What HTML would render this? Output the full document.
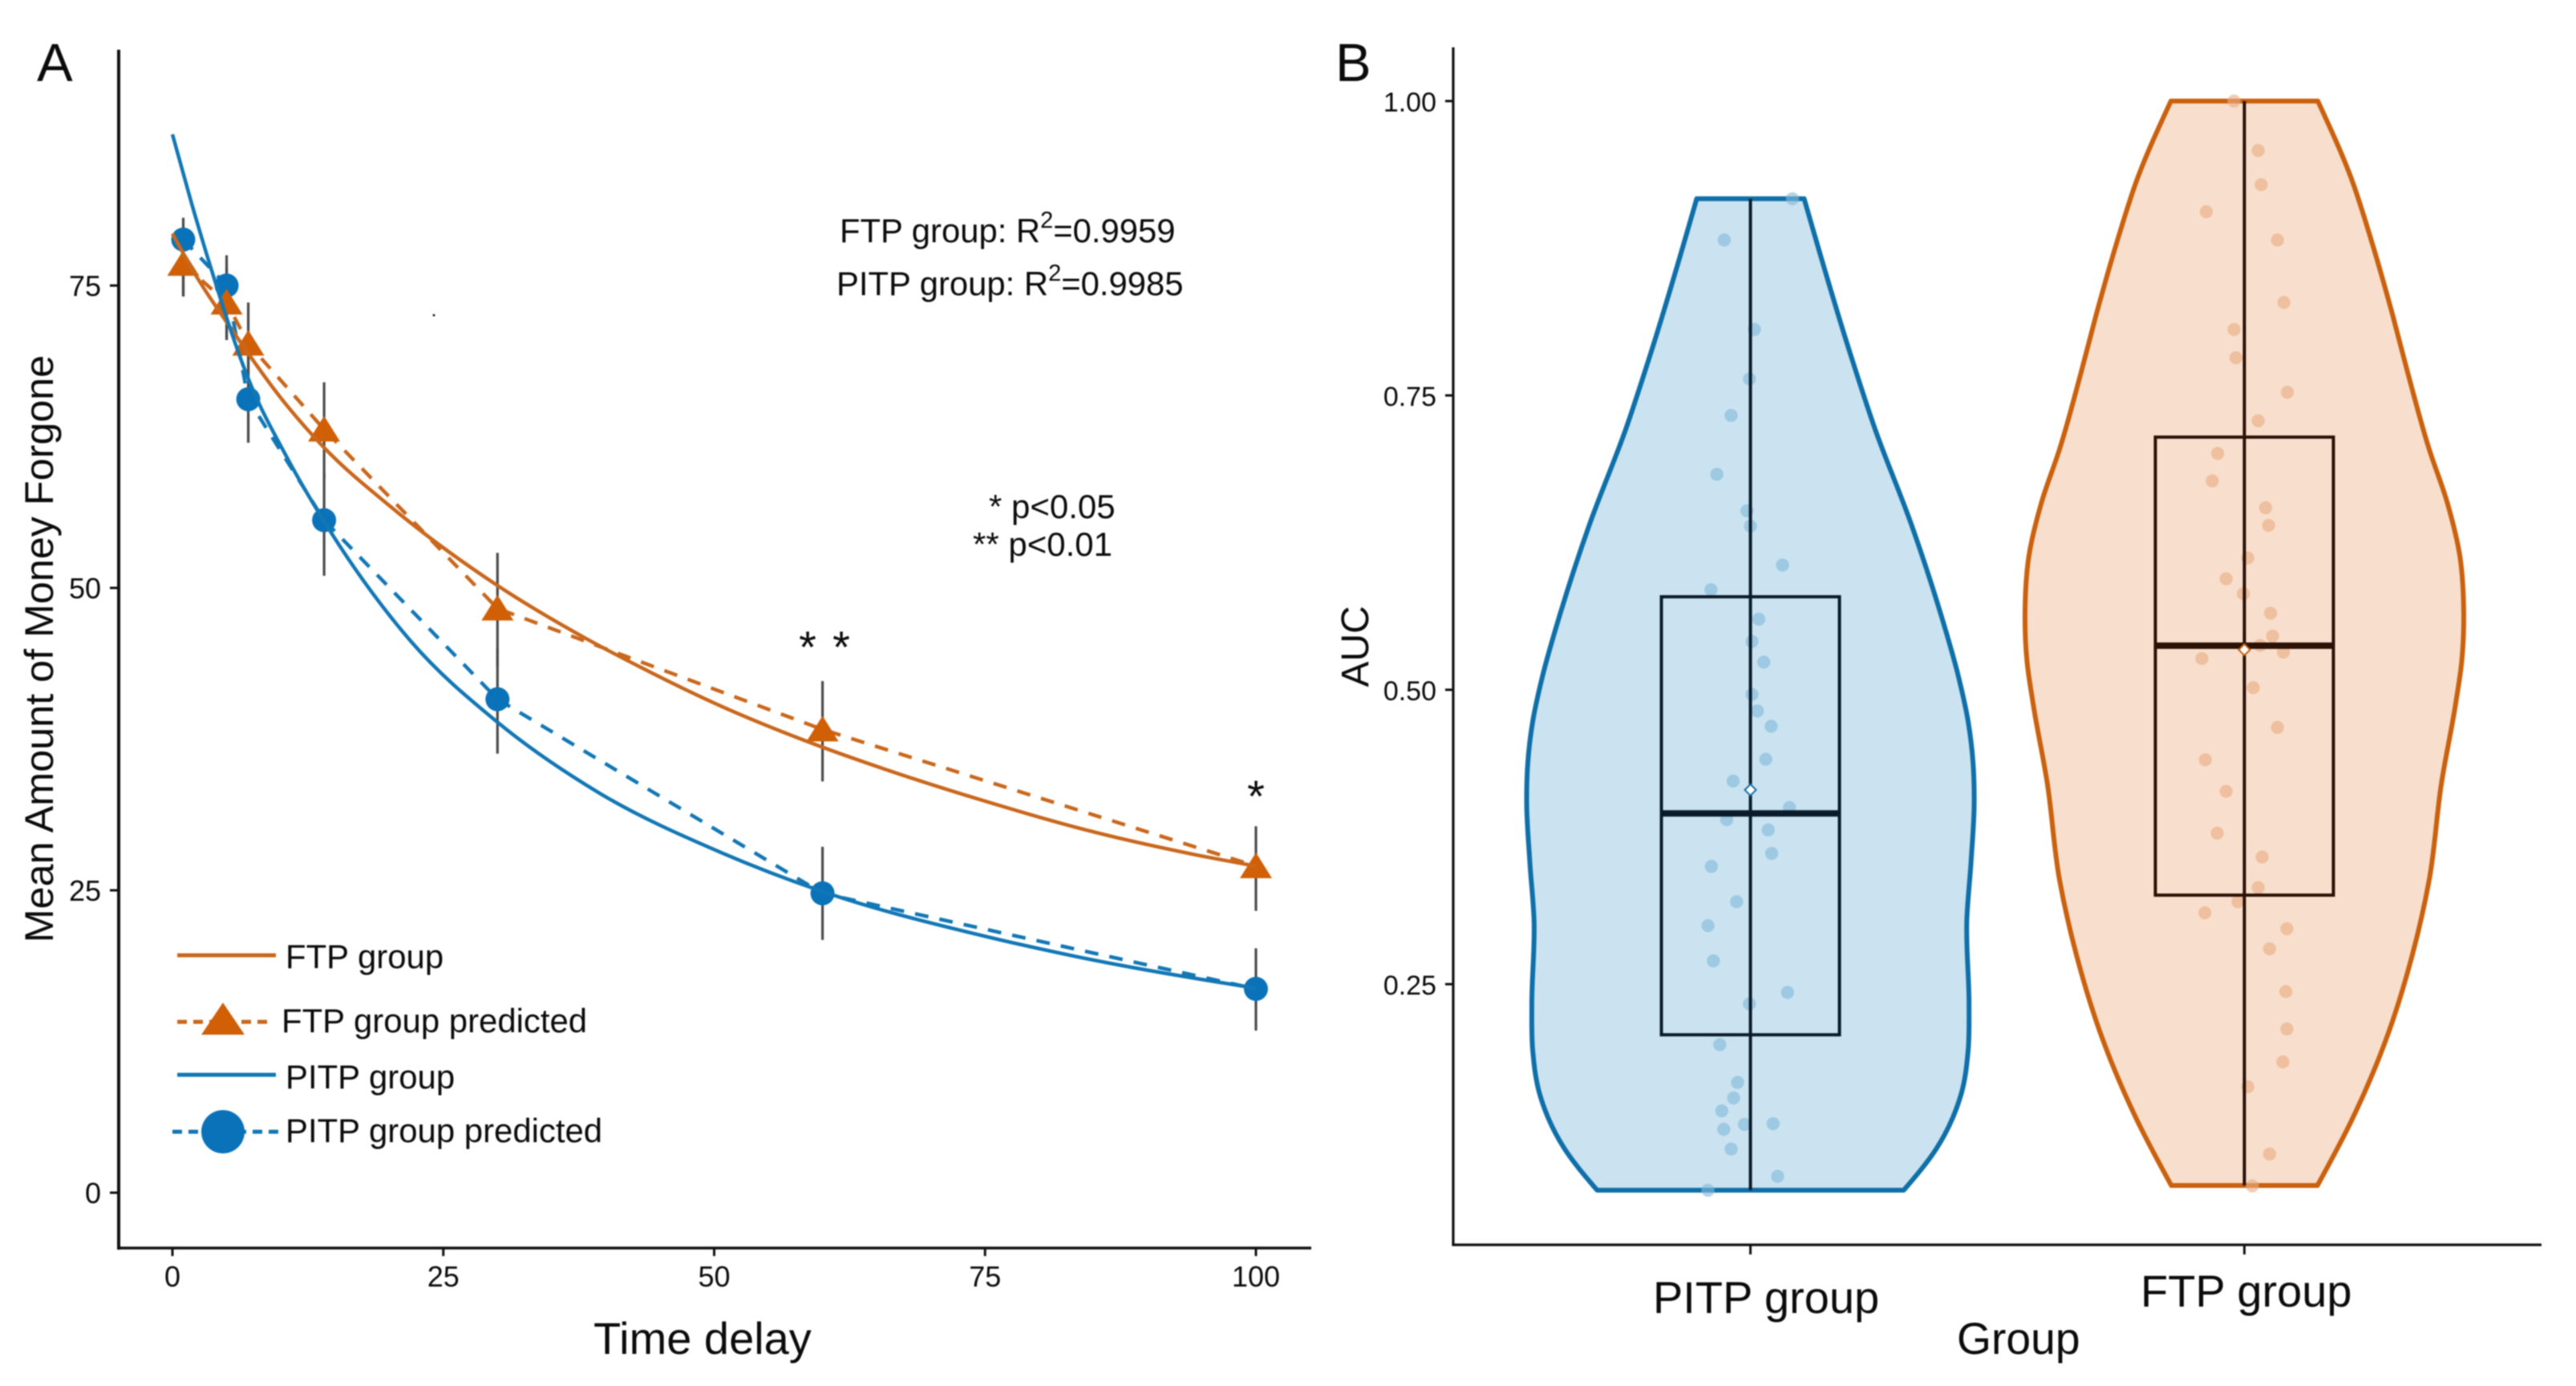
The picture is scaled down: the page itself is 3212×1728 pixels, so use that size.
<!DOCTYPE html>
<html lang="en">
<head>
<meta charset="utf-8">
<title>Delay discounting curves and AUC violin plots</title>
<style>
html,body{margin:0;padding:0;background:#fff;}
body{width:3212px;height:1728px;overflow:hidden;}
svg{display:block;filter:blur(0.7px);}
text{font-family:"Liberation Sans",Arial,sans-serif;fill:#0b0b0b;}
</style>
</head>
<body>
<svg id="figure" xmlns="http://www.w3.org/2000/svg" width="3212" height="1728" viewBox="0 0 3212 1728">
  <rect x="0" y="0" width="3212" height="1728" fill="#ffffff"/>

  <g id="panelA">
    <text x="46" y="101" font-size="67">A</text>
    <text transform="translate(66 809) rotate(-90)" text-anchor="middle" font-size="50.3">Mean Amount of Money Forgone</text>
    <text x="740" y="1688" font-size="56">Time delay</text>
    <text x="1047" y="302" font-size="41.8">FTP group: R<tspan font-size="29" dy="-18">2</tspan><tspan dy="18">=0.9959</tspan></text>
    <text x="1043" y="368" font-size="41.8">PITP group: R<tspan font-size="29" dy="-18">2</tspan><tspan dy="18">=0.9985</tspan></text>
    <text x="1233" y="646" font-size="42">* p&lt;0.05</text>
    <text x="1213" y="693" font-size="42">** p&lt;0.01</text>
    <text x="1007" y="826" text-anchor="middle" font-size="56">*</text>
    <text x="1049" y="826" text-anchor="middle" font-size="56">*</text>
    <text x="1566" y="1012" text-anchor="middle" font-size="56">*</text>
    <circle cx="541" cy="393" r="1.5" fill="#222"/>

    <g id="legendA">
      <line x1="221" y1="1191" x2="344" y2="1191" stroke="#c9671c" stroke-width="5"/>
      <text x="356" y="1207" font-size="41.9">FTP group</text>
      <line x1="221" y1="1274" x2="341" y2="1274" stroke="#c9671c" stroke-width="5" stroke-dasharray="12 8"/>
      <polygon points="278,1250 305,1290 251,1290" fill="#d05f06"/>
      <text x="351" y="1287" font-size="41.9">FTP group predicted</text>
      <line x1="221" y1="1340" x2="344" y2="1340" stroke="#1277b5" stroke-width="5"/>
      <text x="356" y="1357" font-size="41.9">PITP group</text>
      <line x1="215" y1="1411" x2="349" y2="1411" stroke="#1277b5" stroke-width="5" stroke-dasharray="12 8"/>
      <circle cx="278" cy="1411" r="27" fill="#0a72b8"/>
      <text x="356" y="1424" font-size="41.9">PITP group predicted</text>
    </g>
  </g>

  <g id="panelB">
    <text x="1665" y="101" font-size="67">B</text>
    <text transform="translate(1706 806) rotate(-90)" text-anchor="middle" font-size="48">AUC</text>
    <text x="2440" y="1688" font-size="55.3">Group</text>
  </g>
</svg>

<script>
/* ---------- Panel A data ---------- */
const delayTicks = [0, 25, 50, 75, 100];
const amountTicks = [0, 25, 50, 75];
const delays = [1, 5, 7, 14, 30, 60, 100];
const pitpPredicted = [78.8, 75.0, 65.6, 55.6, 40.8, 24.75, 16.85];
const ftpPredicted = [76.8, 73.6, 70.2, 63.1, 48.3, 38.3, 27.0];
const pitpErrLow = [74.1, 70.5, 62.0, 51.0, 36.3, 20.9, 13.4];
const pitpErrHigh = [80.6, 77.5, 69.5, 59.5, 45.0, 28.6, 20.2];
const ftpErrLow = [74.1, 70.5, 66.6, 59.0, 43.5, 34.0, 23.3];
const ftpErrHigh = [79.5, 76.5, 73.6, 67.0, 52.9, 42.3, 30.3];
const pitpCurveT = [0, 1.8, 3.5, 7, 10.5, 14, 22, 30, 39.3, 50.7, 60, 75, 83, 100];
const pitpCurveV = [87.5, 81.7, 76.6, 67.3, 60.9, 55.5, 45.6, 38.9, 33.1, 28.1, 24.9, 21.2, 19.6, 16.9];
const ftpCurveT = [0, 1.85, 5.6, 10.1, 14, 20.3, 30, 38, 43.3, 50.7, 58.6, 65.8, 74.9, 84.7, 94.1, 100];
const ftpCurveV = [79.3, 76.3, 71.2, 65.6, 61.6, 56.6, 50.2, 45.9, 43.4, 40.2, 37.3, 35.0, 32.4, 29.9, 28.0, 27.0];

/* ---------- Panel B data ---------- */
const aucTicks = ["0.25", "0.50", "0.75", "1.00"];
const groups = ["PITP group", "FTP group"];
const pitpViolinAuc = [0.917, 0.785, 0.722, 0.640, 0.566, 0.511, 0.473, 0.438, 0.404, 0.354, 0.304, 0.232, 0.194, 0.156, 0.110, 0.075];
const pitpViolinDensity = [0.24, 0.447, 0.556, 0.72, 0.848, 0.93, 0.973, 0.995, 1, 0.986, 0.967, 0.977, 0.973, 0.941, 0.83, 0.685];
const ftpViolinAuc = [1.0, 0.934, 0.881, 0.819, 0.767, 0.704, 0.659, 0.614, 0.565, 0.524, 0.488, 0.420, 0.339, 0.275, 0.198, 0.134, 0.079];
const ftpViolinDensity = [0.335, 0.488, 0.58, 0.675, 0.748, 0.843, 0.925, 0.982, 1, 0.991, 0.963, 0.898, 0.843, 0.766, 0.636, 0.488, 0.333];
const pitpBoxStats = [0.075, 0.207, 0.395, 0.579, 0.917];
const ftpBoxStats = [0.079, 0.3256, 0.5375, 0.7146, 1.0];
const pitpMean = 0.415;
const ftpMean = 0.534;
const pitpPointAuc = [0.917,0.882,0.806,0.764,0.733,0.683,0.652,0.639,0.606,0.585,0.560,0.541,0.5235,0.496,0.482,0.469,0.441,0.4225,0.400,0.3897,0.381,0.361,0.350,0.320,0.2997,0.2698,0.243,0.2333,0.1986,0.1665,0.1533,0.1424,0.1267,0.1308,0.1315,0.110,0.0868,0.075];
const pitpPointJitter = [0.085,-0.053,0.008,-0.002,-0.039,-0.068,-0.007,0,0.065,-0.080,0.017,0.003,0.027,0.003,0.014,0.042,0.031,-0.035,0.079,-0.048,0.036,0.043,-0.079,-0.028,-0.086,-0.075,0.075,-0.002,-0.062,-0.026,-0.034,-0.058,-0.054,-0.012,0.046,-0.039,0.055,-0.086];
const ftpPointAuc = [1.0,0.958,0.929,0.906,0.882,0.829,0.806,0.782,0.7527,0.7285,0.7007,0.6774,0.6546,0.6396,0.612,0.5943,0.5815,0.565,0.5456,0.5377,0.532,0.5265,0.5018,0.468,0.4405,0.4138,0.3783,0.358,0.332,0.32,0.3106,0.297,0.28,0.2437,0.212,0.184,0.1628,0.1057,0.0787];
const ftpPointJitter = [-0.021,0.028,0.034,-0.077,0.067,0.080,-0.021,-0.017,0.087,0.028,-0.054,-0.065,0.043,0.049,0.007,-0.037,-0.002,0.053,0.057,0.032,0.079,-0.086,0.018,0.067,-0.079,-0.037,-0.055,0.036,0.028,-0.013,-0.08,0.086,0.051,0.084,0.086,0.078,0.007,0.051,0.016];

/* ---------- Axis functions ---------- */
const xA = t => 215 + 13.51 * t;
const yA = v => 1487 - 15.08 * v;
const yB = v => 1594 - 1468 * v;
const catX = i => 2182.6 + 615.9 * i;
const jitterX = (i, j) => catX(i) + 616 * j;

const NS = "http://www.w3.org/2000/svg";
const panelA = document.getElementById("panelA");
const panelB = document.getElementById("panelB");
const legendA = document.getElementById("legendA");

function mk(parent, tag, attrs) {
  const el = document.createElementNS(NS, tag);
  for (const k in attrs) el.setAttribute(k, attrs[k]);
  parent.insertBefore(el, parent === panelA ? legendA : null);
  return el;
}
/* Hermite spline through [u, w] samples with u strictly ordered; returns list of cubic segments in (u, w) */
function hermite(us, ws) {
  const n = us.length, slope = [], m = new Array(n);
  for (let i = 0; i < n - 1; i++) slope.push((ws[i + 1] - ws[i]) / (us[i + 1] - us[i]));
  for (let i = 1; i < n - 1; i++) {
    const h0 = us[i] - us[i - 1], h1 = us[i + 1] - us[i];
    m[i] = (h0 * slope[i] + h1 * slope[i - 1]) / (h0 + h1);
  }
  m[0] = (3 * slope[0] - m[1]) / 2;
  m[n - 1] = (3 * slope[n - 2] - m[n - 2]) / 2;
  const segs = [];
  for (let i = 0; i < n - 1; i++) {
    const h = us[i + 1] - us[i];
    segs.push([us[i] + h / 3, ws[i] + m[i] * h / 3, us[i + 1] - h / 3, ws[i + 1] - m[i + 1] * h / 3, us[i + 1], ws[i + 1]]);
  }
  return segs;
}
function curvePath(xs, ys) {
  let d = "M" + xs[0].toFixed(1) + " " + ys[0].toFixed(1);
  hermite(xs, ys).forEach(s => {
    d += "C" + s[0].toFixed(1) + " " + s[1].toFixed(1) + " " + s[2].toFixed(1) + " " + s[3].toFixed(1) + " " + s[4].toFixed(1) + " " + s[5].toFixed(1);
  });
  return d;
}
/* side path: x is a function of y */
function sidePath(ys, xs, cmd) {
  let d = cmd + xs[0].toFixed(1) + " " + ys[0].toFixed(1);
  hermite(ys, xs).forEach(s => {
    d += "C" + s[1].toFixed(1) + " " + s[0].toFixed(1) + " " + s[3].toFixed(1) + " " + s[2].toFixed(1) + " " + s[5].toFixed(1) + " " + s[4].toFixed(1);
  });
  return d;
}

/* ---------- Panel A axes ---------- */
const axisYA = mk(panelA, "line", {x1: 148, y1: 62, x2: 148, y2: 1558, stroke: "#111", "stroke-width": 4});


const axisXA = mk(panelA, "line", {x1: 146, y1: 1556, x2: 1635, y2: 1556, stroke: "#111", "stroke-width": 3.5});



amountTicks.forEach(v => {
  const tick = mk(panelA, "line", {x1: 137, y1: yA(v), x2: 148, y2: yA(v), stroke: "#111", "stroke-width": 3});
  
  
  const label = mk(panelA, "text", {x: 126, y: yA(v) + 13, "text-anchor": "end", "font-size": 36});
  label.textContent = v;
  
  
});
delayTicks.forEach(t => {
  const tick = mk(panelA, "line", {x1: xA(t), y1: 1556, x2: xA(t), y2: 1566, stroke: "#111", "stroke-width": 3});
  
  
  const label = mk(panelA, "text", {x: xA(t), y: 1604, "text-anchor": "middle", "font-size": 36});
  label.textContent = t;
  
  
});

/* ---------- Panel A series ---------- */
delays.forEach((t, i) => {
  const ftpBar = mk(panelA, "line", {x1: xA(t), y1: yA(ftpErrHigh[i]), x2: xA(t), y2: yA(ftpErrLow[i]), stroke: "#4a4a4a", "stroke-width": 3.2});
  
  
  const pitpBar = mk(panelA, "line", {x1: xA(t), y1: yA(pitpErrHigh[i]), x2: xA(t), y2: yA(pitpErrLow[i]), stroke: "#4a4a4a", "stroke-width": 3.2});
  
  
});

const pitpDash = mk(panelA, "polyline", {points: delays.map((t, i) => xA(t) + "," + yA(pitpPredicted[i])).join(" "), fill: "none", stroke: "#1277b5", "stroke-width": 4.5, "stroke-dasharray": "17 14"});


const ftpDash = mk(panelA, "polyline", {points: delays.map((t, i) => xA(t) + "," + yA(ftpPredicted[i])).join(" "), fill: "none", stroke: "#c9671c", "stroke-width": 4.5, "stroke-dasharray": "17 14"});



delays.forEach((t, i) => {
  const c = mk(panelA, "circle", {cx: xA(t), cy: yA(pitpPredicted[i]), r: 15, fill: "#0a72b8"});
  
  
});
delays.forEach((t, i) => {
  const x = xA(t), y = yA(ftpPredicted[i]);
  const tri = mk(panelA, "polygon", {points: x + "," + (y - 17) + " " + (x + 20) + "," + (y + 15) + " " + (x - 20) + "," + (y + 15), fill: "#d05f06"});
  
  
});

const ftpCurve = mk(panelA, "path", {d: curvePath(ftpCurveT.map(xA), ftpCurveV.map(yA)), fill: "none", stroke: "#c9671c", "stroke-width": 4.5});


const pitpCurve = mk(panelA, "path", {d: curvePath(pitpCurveT.map(xA), pitpCurveV.map(yA)), fill: "none", stroke: "#1277b5", "stroke-width": 4.5});



/* ---------- Panel B axes ---------- */
const axisYB = mk(panelB, "line", {x1: 1812, y1: 59, x2: 1812, y2: 1553, stroke: "#111", "stroke-width": 3.2});


const axisXB = mk(panelB, "line", {x1: 1810.5, y1: 1552, x2: 3169, y2: 1552, stroke: "#111", "stroke-width": 3.2});



aucTicks.forEach(s => {
  const v = parseFloat(s);
  const tick = mk(panelB, "line", {x1: 1802, y1: yB(v), x2: 1812, y2: yB(v), stroke: "#111", "stroke-width": 3});
  
  
  const label = mk(panelB, "text", {x: 1791, y: yB(v) + 13, "text-anchor": "end", "font-size": 34});
  label.textContent = s;
  
  
});
const groupLabelLeft = [2061, 2669];
const groupLabelBase = [1637, 1629];
groups.forEach((g, i) => {
  const tick = mk(panelB, "line", {x1: catX(i), y1: 1552, x2: catX(i), y2: 1564, stroke: "#111", "stroke-width": 3});
  
  
  const label = mk(panelB, "text", {x: groupLabelLeft[i], y: groupLabelBase[i], "font-size": 56});
  label.textContent = g;
  
  
});

/* ---------- Panel B violins ---------- */
function drawViolin(i, aucs, dens, halfMax, stroke, fill, dotFill, pAuc, pJit, stats, mean, boxStroke, nameKey) {
  const ys = aucs.map(yB);
  const leftX = dens.map(d => catX(i) - halfMax * d);
  const rightX = dens.map(d => catX(i) + halfMax * d);
  const d = sidePath(ys, leftX, "M") + sidePath(ys.slice().reverse(), rightX.slice().reverse(), "L") + "Z";
  const violin = mk(panelB, "path", {d: d, fill: fill, stroke: stroke, "stroke-width": 6, "stroke-linejoin": "round"});
  
  

  pAuc.forEach((v, k) => {
    const dot = mk(panelB, "circle", {cx: jitterX(i, pJit[k]), cy: yB(v), r: 8.2, fill: dotFill});
    
    
  });

  const whisker = mk(panelB, "line", {x1: catX(i), y1: yB(stats[4]), x2: catX(i), y2: yB(stats[0]), stroke: boxStroke, "stroke-width": 4});
  
  

  const box = mk(panelB, "rect", {x: catX(i) - 111, y: yB(stats[3]), width: 222, height: yB(stats[1]) - yB(stats[3]), fill: fill, "fill-opacity": 0, stroke: boxStroke, "stroke-width": 4});
  
  

  const median = mk(panelB, "line", {x1: catX(i) - 111, y1: yB(stats[2]), x2: catX(i) + 111, y2: yB(stats[2]), stroke: boxStroke, "stroke-width": 8});
  
  

  const my = yB(mean), mx = catX(i);
  const diamond = mk(panelB, "polygon", {points: mx + "," + (my - 7) + " " + (mx + 7) + "," + my + " " + mx + "," + (my + 7) + " " + (mx - 7) + "," + my, fill: "#ffffff", stroke: stroke, "stroke-width": 2});
  
  
}
drawViolin(0, pitpViolinAuc, pitpViolinDensity, 279, "#0f6fa8", "#cbe3f0", "rgba(130,185,220,.62)", pitpPointAuc, pitpPointJitter, pitpBoxStats, pitpMean, "#0a1c2a", "pitp");
drawViolin(1, ftpViolinAuc, ftpViolinDensity, 273.5, "#c9610f", "#f8dfcd", "rgba(234,172,130,.62)", ftpPointAuc, ftpPointJitter, ftpBoxStats, ftpMean, "#2a1206", "ftp");
</script>
</body>
</html>
